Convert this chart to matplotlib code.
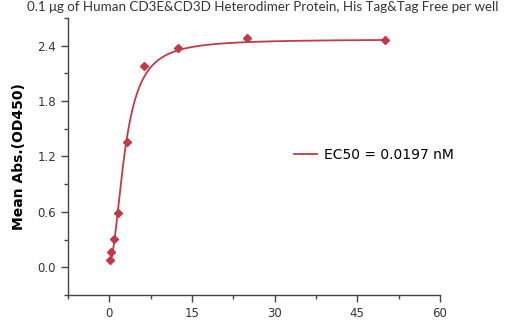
import numpy as np
import matplotlib.pyplot as plt
from matplotlib.ticker import MultipleLocator

# Data
conc = [0.2, 0.39, 0.78, 1.56, 3.125, 6.25, 12.5, 25, 50]
od450 = [0.08, 0.16, 0.31, 0.59, 1.36, 2.18, 2.37, 2.48, 2.46]

# 4PL fit parameters (bottom, top, ec50, hill)
fit_bottom, fit_top, fit_c, fit_h = 0.06, 2.47, 2.85, 2.0

red = '#c23a45'
grey = '#444444'

fig = plt.figure(figsize=(5.11, 3.22), dpi=100)
ax = fig.add_axes([0.133, 0.084, 0.728, 0.86])

xs = np.linspace(0.2, 50, 600)
ys = fit_bottom + (fit_top - fit_bottom) / (1 + (fit_c / xs) ** fit_h)
ax.plot(xs, ys, color=red, lw=1.3, label='EC50 = 0.0197 nM')
ax.plot(conc, od450, 'D', color=red, ms=4, label='_nolegend_')

ax.set_xlim(-7.5, 60)
ax.set_ylim(-0.3, 2.7)
ax.xaxis.set_major_locator(MultipleLocator(15))
ax.xaxis.set_minor_locator(MultipleLocator(7.5))
ax.yaxis.set_major_locator(MultipleLocator(0.6))
ax.yaxis.set_minor_locator(MultipleLocator(0.3))
ax.yaxis.set_major_formatter(plt.FuncFormatter(lambda v, p: f'{v:.1f}'))

for s in ['top', 'right']:
    ax.spines[s].set_visible(False)
for s in ['left', 'bottom']:
    ax.spines[s].set_color(grey)
    ax.spines[s].set_linewidth(1.0)

ax.tick_params(which='both', direction='out', color=grey, labelcolor='#333333',
               labelsize=8.5, width=1.0)
ax.tick_params(which='major', length=5)
ax.tick_params(which='minor', length=3)

ax.set_ylabel('Mean Abs.(OD450)', fontsize=10, fontweight='bold', labelpad=8)

ax.legend(loc='center left', bbox_to_anchor=(0.575, 0.505), frameon=False,
          fontsize=10, handlelength=1.6, handletextpad=0.5)

fig.text(0.515, 0.998, '0.1 μg of Human CD3E&CD3D Heterodimer Protein, His Tag&Tag Free per well',
         ha='center', va='top', fontsize=9.6, color='#333333', family='Lato')

fig.savefig('out.png', dpi=100)
